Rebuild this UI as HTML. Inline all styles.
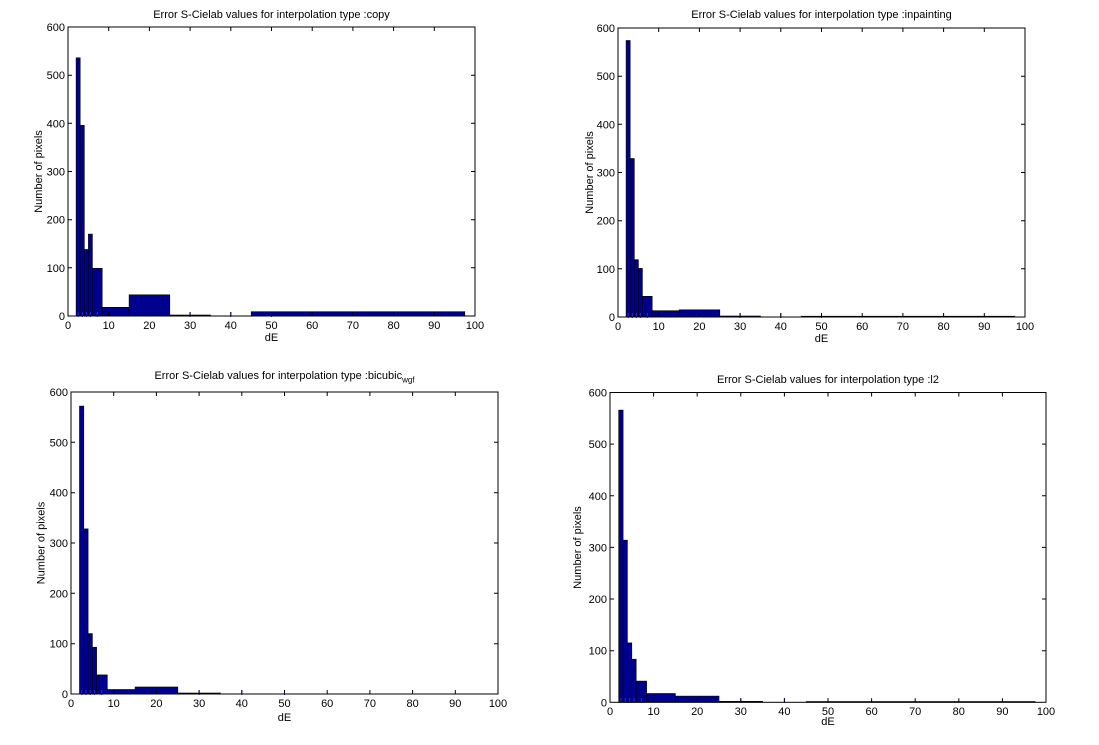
<!DOCTYPE html>
<html><head><meta charset="utf-8"><style>
html,body{margin:0;padding:0;background:#fff;}
svg{display:block;}
text{font-family:"Liberation Sans",Arial,sans-serif;font-size:11px;fill:#000;}
.xl{text-anchor:middle;}
.yl{text-anchor:end;}
.bar{fill:#00008F;stroke:#000;stroke-width:0.6;}
.ax{fill:none;stroke:#000;stroke-width:1;}
.bt{stroke:#2a2ad8;stroke-width:1;fill:none;}
</style></head><body>
<svg width="1099" height="745" viewBox="0 0 1099 745" xmlns="http://www.w3.org/2000/svg">
<rect width="1099" height="745" fill="#fff"/>

<!-- ===== TL : copy ===== -->
<g>
<rect class="bar" x="76.1" y="57.8" width="4.1" height="258.2"/>
<rect class="bar" x="80.2" y="125.3" width="4.1" height="190.7"/>
<rect class="bar" x="84.3" y="249.5" width="4.1" height="66.5"/>
<rect class="bar" x="88.4" y="234.1" width="4.0" height="81.9"/>
<rect class="bar" x="92.4" y="268.3" width="9.8" height="47.7"/>
<rect class="bar" x="102.2" y="307.3" width="26.9" height="8.7"/>
<rect class="bar" x="129.1" y="294.8" width="40.7" height="21.2"/>
<rect class="bar" x="169.8" y="315" width="40.7" height="1"/>
<rect class="bar" x="251.2" y="311.7" width="213.6" height="4.3"/>
<path class="bt" d="M78.2 312V317M82.3 312V317M86.4 312V317M90.4 312V317M97.3 312V317M190.1 312V317M230.8 312V317M271.5 312V317"/>
<rect class="ax" x="68" y="27" width="407" height="289"/>
<path class="ax" d="M68 316V312M108.7 316V312M149.4 316V312M190.1 316V312M230.8 316V312M271.5 316V312M312.2 316V312M352.9 316V312M393.6 316V312M434.3 316V312M475 316V312
M68 27V31M108.7 27V31M149.4 27V31M190.1 27V31M230.8 27V31M271.5 27V31M312.2 27V31M352.9 27V31M393.6 27V31M434.3 27V31M475 27V31
M68 267.8H72M68 219.7H72M68 171.5H72M68 123.3H72M68 75.2H72
M475 267.8H471M475 219.7H471M475 171.5H471M475 123.3H471M475 75.2H471"/>
<text class="xl" x="68" y="329">0</text><text class="xl" x="108.7" y="329">10</text><text class="xl" x="149.4" y="329">20</text><text class="xl" x="190.1" y="329">30</text><text class="xl" x="230.8" y="329">40</text><text class="xl" x="271.5" y="329">50</text><text class="xl" x="312.2" y="329">60</text><text class="xl" x="352.9" y="329">70</text><text class="xl" x="393.6" y="329">80</text><text class="xl" x="434.3" y="329">90</text><text class="xl" x="475" y="329">100</text>
<text class="yl" x="65" y="31">600</text><text class="yl" x="65" y="79.2">500</text><text class="yl" x="65" y="127.3">400</text><text class="yl" x="65" y="175.5">300</text><text class="yl" x="65" y="223.7">200</text><text class="yl" x="65" y="271.8">100</text><text class="yl" x="65" y="320">0</text>
<text class="xl" x="271.5" y="18">Error S-Cielab values for interpolation type :copy</text>
<text class="xl" x="271.5" y="341">dE</text>
<text class="xl" transform="translate(42,171.5) rotate(-90)">Number of pixels</text>
</g>

<!-- ===== TR : inpainting ===== -->
<g>
<rect class="bar" x="626.1" y="40.5" width="4.1" height="276.5"/>
<rect class="bar" x="630.2" y="158.5" width="4.1" height="158.5"/>
<rect class="bar" x="634.3" y="259.7" width="4.1" height="57.3"/>
<rect class="bar" x="638.4" y="268.4" width="4.0" height="48.6"/>
<rect class="bar" x="642.4" y="296.3" width="9.8" height="20.7"/>
<rect class="bar" x="652.2" y="310.7" width="26.9" height="6.3"/>
<rect class="bar" x="679.1" y="309.8" width="40.7" height="7.2"/>
<rect class="bar" x="719.8" y="316" width="40.7" height="1"/>
<rect class="bar" x="801.2" y="316.2" width="213.6" height="0.8"/>
<path class="bt" d="M628.2 313V318M632.3 313V318M636.4 313V318M640.4 313V318M647.3 313V318M740.1 313V318M780.8 313V318M821.5 313V318"/>
<rect class="ax" x="618" y="28" width="407" height="289"/>
<path class="ax" d="M618 317V313M658.7 317V313M699.4 317V313M740.1 317V313M780.8 317V313M821.5 317V313M862.2 317V313M902.9 317V313M943.6 317V313M984.3 317V313M1025 317V313
M618 28V32M658.7 28V32M699.4 28V32M740.1 28V32M780.8 28V32M821.5 28V32M862.2 28V32M902.9 28V32M943.6 28V32M984.3 28V32M1025 28V32
M618 268.8H622M618 220.7H622M618 172.5H622M618 124.3H622M618 76.2H622
M1025 268.8H1021M1025 220.7H1021M1025 172.5H1021M1025 124.3H1021M1025 76.2H1021"/>
<text class="xl" x="618" y="330">0</text><text class="xl" x="658.7" y="330">10</text><text class="xl" x="699.4" y="330">20</text><text class="xl" x="740.1" y="330">30</text><text class="xl" x="780.8" y="330">40</text><text class="xl" x="821.5" y="330">50</text><text class="xl" x="862.2" y="330">60</text><text class="xl" x="902.9" y="330">70</text><text class="xl" x="943.6" y="330">80</text><text class="xl" x="984.3" y="330">90</text><text class="xl" x="1025" y="330">100</text>
<text class="yl" x="615" y="32">600</text><text class="yl" x="615" y="80.2">500</text><text class="yl" x="615" y="128.3">400</text><text class="yl" x="615" y="176.5">300</text><text class="yl" x="615" y="224.7">200</text><text class="yl" x="615" y="272.8">100</text><text class="yl" x="615" y="321">0</text>
<text class="xl" x="821.5" y="18">Error S-Cielab values for interpolation type :inpainting</text>
<text class="xl" x="821.5" y="342">dE</text>
<text class="xl" transform="translate(593,172.5) rotate(-90)">Number of pixels</text>
</g>

<!-- ===== BL : bicubic_wgf ===== -->
<g>
<rect class="bar" x="79.5" y="406.1" width="4.3" height="287.9"/>
<rect class="bar" x="83.8" y="528.9" width="4.3" height="165.1"/>
<rect class="bar" x="88.1" y="633.6" width="4.3" height="60.4"/>
<rect class="bar" x="92.4" y="647.2" width="4.2" height="46.8"/>
<rect class="bar" x="96.6" y="674.9" width="10.7" height="19.1"/>
<rect class="bar" x="107.3" y="689.5" width="27.8" height="4.5"/>
<rect class="bar" x="135.1" y="687" width="42.7" height="7"/>
<rect class="bar" x="177.8" y="693" width="42.7" height="1"/>
<path class="bt" d="M81.7 690V695M86 690V695M90.2 690V695M94.5 690V695M101.7 690V695M199.1 690V695M241.8 690V695M284.5 690V695"/>
<rect class="ax" x="71" y="392" width="427" height="302"/>
<path class="ax" d="M71 694V690M113.7 694V690M156.4 694V690M199.1 694V690M241.8 694V690M284.5 694V690M327.2 694V690M369.9 694V690M412.6 694V690M455.3 694V690M498 694V690
M71 392V396M113.7 392V396M156.4 392V396M199.1 392V396M241.8 392V396M284.5 392V396M327.2 392V396M369.9 392V396M412.6 392V396M455.3 392V396M498 392V396
M71 643.7H75M71 593.3H75M71 543H75M71 492.7H75M71 442.3H75
M498 643.7H494M498 593.3H494M498 543H494M498 492.7H494M498 442.3H494"/>
<text class="xl" x="71" y="707">0</text><text class="xl" x="113.7" y="707">10</text><text class="xl" x="156.4" y="707">20</text><text class="xl" x="199.1" y="707">30</text><text class="xl" x="241.8" y="707">40</text><text class="xl" x="284.5" y="707">50</text><text class="xl" x="327.2" y="707">60</text><text class="xl" x="369.9" y="707">70</text><text class="xl" x="412.6" y="707">80</text><text class="xl" x="455.3" y="707">90</text><text class="xl" x="498" y="707">100</text>
<text class="yl" x="68" y="396">600</text><text class="yl" x="68" y="446.3">500</text><text class="yl" x="68" y="496.7">400</text><text class="yl" x="68" y="547">300</text><text class="yl" x="68" y="597.3">200</text><text class="yl" x="68" y="647.7">100</text><text class="yl" x="68" y="698">0</text>
<text class="xl" x="284.5" y="379">Error S-Cielab values for interpolation type :bicubic<tspan dy="3.5" font-size="8">wgf</tspan></text>
<text class="xl" x="284.5" y="721">dE</text>
<text class="xl" transform="translate(44.5,543) rotate(-90)">Number of pixels</text>
</g>

<!-- ===== BR : l2 ===== -->
<g>
<rect class="bar" x="618.7" y="410.1" width="4.4" height="292.2"/>
<rect class="bar" x="623.1" y="540.2" width="4.3" height="162.1"/>
<rect class="bar" x="627.4" y="642.9" width="4.4" height="59.4"/>
<rect class="bar" x="631.8" y="659.2" width="4.4" height="43.1"/>
<rect class="bar" x="636.2" y="681.1" width="10.4" height="21.2"/>
<rect class="bar" x="646.6" y="693.5" width="28.8" height="8.8"/>
<rect class="bar" x="675.4" y="696.1" width="43.6" height="6.2"/>
<rect class="bar" x="719" y="701.3" width="43.6" height="1"/>
<rect class="bar" x="806.2" y="701.5" width="228.9" height="0.8"/>
<path class="bt" d="M620.9 698V703M625.3 698V703M629.6 698V703M634 698V703M641.4 698V703M740.8 698V703M784.4 698V703M828 698V703"/>
<rect class="ax" x="610" y="392.5" width="436" height="309.8"/>
<path class="ax" d="M610 702.3V698.3M653.6 702.3V698.3M697.2 702.3V698.3M740.8 702.3V698.3M784.4 702.3V698.3M828 702.3V698.3M871.6 702.3V698.3M915.2 702.3V698.3M958.8 702.3V698.3M1002.4 702.3V698.3M1046 702.3V698.3
M610 392.5V396.5M653.6 392.5V396.5M697.2 392.5V396.5M740.8 392.5V396.5M784.4 392.5V396.5M828 392.5V396.5M871.6 392.5V396.5M915.2 392.5V396.5M958.8 392.5V396.5M1002.4 392.5V396.5M1046 392.5V396.5
M610 650.7H614M610 599H614M610 547.4H614M610 495.8H614M610 444.1H614
M1046 650.7H1042M1046 599H1042M1046 547.4H1042M1046 495.8H1042M1046 444.1H1042"/>
<text class="xl" x="610" y="715">0</text><text class="xl" x="653.6" y="715">10</text><text class="xl" x="697.2" y="715">20</text><text class="xl" x="740.8" y="715">30</text><text class="xl" x="784.4" y="715">40</text><text class="xl" x="828" y="715">50</text><text class="xl" x="871.6" y="715">60</text><text class="xl" x="915.2" y="715">70</text><text class="xl" x="958.8" y="715">80</text><text class="xl" x="1002.4" y="715">90</text><text class="xl" x="1046" y="715">100</text>
<text class="yl" x="607" y="396.5">600</text><text class="yl" x="607" y="448.1">500</text><text class="yl" x="607" y="499.8">400</text><text class="yl" x="607" y="551.4">300</text><text class="yl" x="607" y="603">200</text><text class="yl" x="607" y="654.7">100</text><text class="yl" x="607" y="706.3">0</text>
<text class="xl" x="828" y="383">Error S-Cielab values for interpolation type :l2</text>
<text class="xl" x="828" y="725">dE</text>
<text class="xl" transform="translate(581,547.5) rotate(-90)">Number of pixels</text>
</g>
</svg>
</body></html>
